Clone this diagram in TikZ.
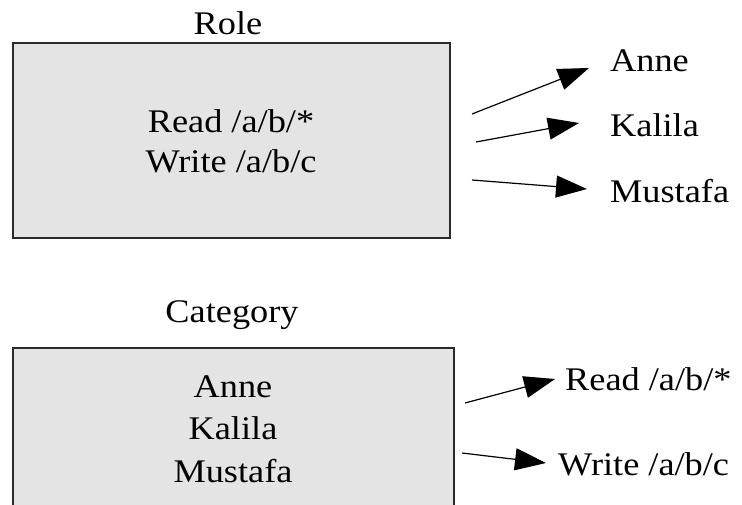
\documentclass[tikz,border=0pt]{standalone}
\usepackage{fontspec}
\setmainfont{Liberation Serif}[FakeStretch=1.1]
\usetikzlibrary{arrows.meta}
\definecolor{boxfill}{HTML}{E4E4E4}
\definecolor{boxline}{HTML}{2A2A2A}
\tikzset{
  panel/.style={draw=boxline, fill=boxfill, line width=1.8pt},
  label/.style={inner sep=0pt, font=\fontsize{33}{40}\selectfont},
  link/.style={line width=1.2pt, -{Triangle[length=31pt,width=22pt]}},
}
\begin{document}
\begin{tikzpicture}[x=1pt,y=-1pt]
  \useasboundingbox (0,0) rectangle (742,505);
  \clip (0,0) rectangle (742,505);

  % Role panel
  \node[label, anchor=base] (roletitle) at (228,35) {Role};
  \draw[panel] (13,43) rectangle (450,238);
  \node[label, anchor=base] (rread) at (231,133) {Read /a/b/*};
  \node[label, anchor=base] (rwrite) at (231,173) {Write /a/b/c};

  \node[label, anchor=base west] (anne) at (610,72) {Anne};
  \node[label, anchor=base west] (kalila) at (610,137) {Kalila};
  \node[label, anchor=base west] (mustafa) at (610,203) {Mustafa};

  \coordinate (a0) at (472,114);  \coordinate (a1) at (589,68);
  \coordinate (k0) at (476,142);  \coordinate (k1) at (579,123);
  \coordinate (m0) at (472,180);  \coordinate (m1) at (587,189);
  \draw[link] (a0) -- (a1);
  \draw[link] (k0) -- (k1);
  \draw[link] (m0) -- (m1);

  % Category panel
  \node[label, anchor=base] (cattitle) at (232,323) {Category};
  \draw[panel] (13,348) rectangle (454,540);
  \node[label, anchor=base] (canne) at (233,397) {Anne};
  \node[label, anchor=base] (ckalila) at (233,439) {Kalila};
  \node[label, anchor=base] (cmustafa) at (233,482) {Mustafa};

  \node[label, anchor=base west] (pread) at (565,390) {Read /a/b/*};
  \node[label, anchor=base west] (pwrite) at (558,475) {Write /a/b/c};

  \coordinate (r0) at (465,403);  \coordinate (r1) at (555,379);
  \coordinate (w0) at (462,453);  \coordinate (w1) at (546,463);
  \draw[link] (r0) -- (r1);
  \draw[link] (w0) -- (w1);
\end{tikzpicture}
\end{document}
